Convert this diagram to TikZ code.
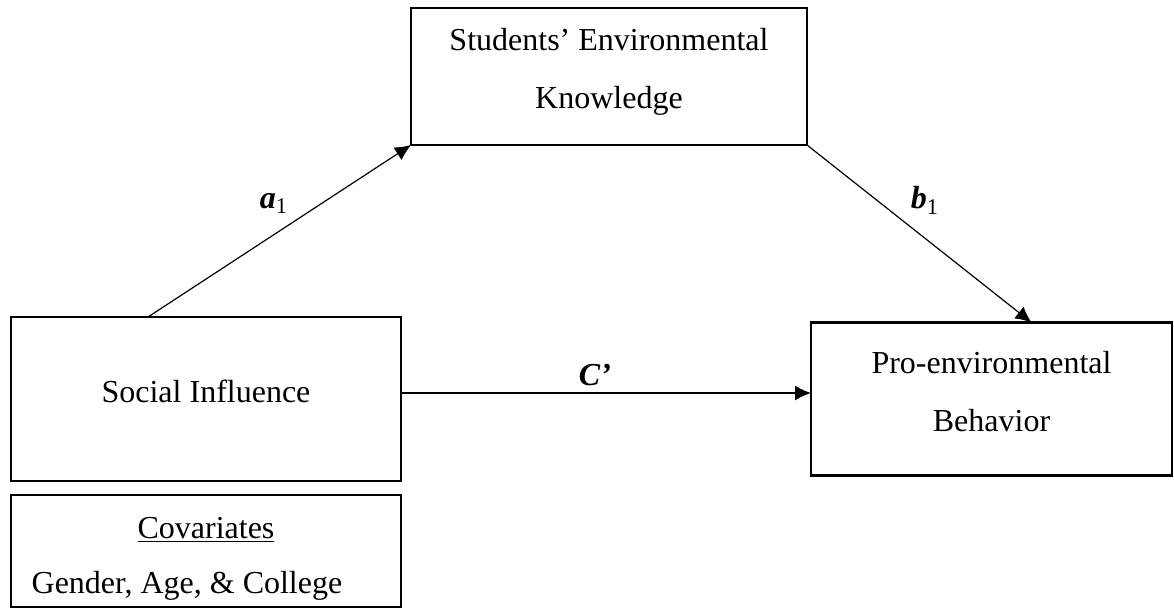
\documentclass[tikz,border=0pt]{standalone}
\usepackage{fontspec}
\setmainfont{Liberation Serif}
\usetikzlibrary{arrows.meta,positioning}

\newcommand{\lowstrut}{\rule[-8pt]{0pt}{8pt}}
\newcommand{\highstrut}{\rule{0pt}{18pt}}

\begin{document}
\begin{tikzpicture}[
    x=0.5pt, y=-0.5pt,
    every node/.style={font=\fontsize{16}{29}\selectfont},
    box/.style={draw,rectangle,line width=1.1pt,align=center,outer sep=0pt},
    arrow/.style={->,>={Latex[length=8pt,width=7.5pt]},line width=0.6pt},
    lbl/.style={font=\fontsize{16}{19}\selectfont\bfseries\itshape}
]
    \useasboundingbox (0,0) rectangle (1174,609);

    \node[box,minimum width=195pt,minimum height=82pt] (SI) at (206,399) {Social Influence\lowstrut};
    \node[box,minimum width=195pt,minimum height=56pt,below=7pt of SI] (cov)
        {\highstrut\underline{Covariates}\\[-1.5pt]Gender, Age, \& College\hspace*{19pt}};
    \node[box,minimum width=198pt,minimum height=68.5pt,above right=86pt and 5pt of SI] (SEK)
        {Students’ Environmental\\Knowledge\lowstrut};
    \node[box,minimum width=180.5pt,minimum height=76.5pt,right=205pt of SI] (PEB)
        {Pro-environmental\\Behavior\lowstrut};

    \draw[arrow] ([xshift=-29pt]SI.north) -- node[lbl,above left,pos=0.56] (a1) {a{\mdseries\upshape\textsubscript{1}}} (SEK.south west);
    \draw[arrow] (SEK.south east) -- node[lbl,above right,pos=0.43] (b1) {b{\mdseries\upshape\textsubscript{1}}} ([xshift=20pt]PEB.north);
    \draw[arrow] ([yshift=3pt]SI.east) -- node[lbl,above,pos=0.473] (c) {C’} ([yshift=3pt]PEB.west);
\end{tikzpicture}
\end{document}
